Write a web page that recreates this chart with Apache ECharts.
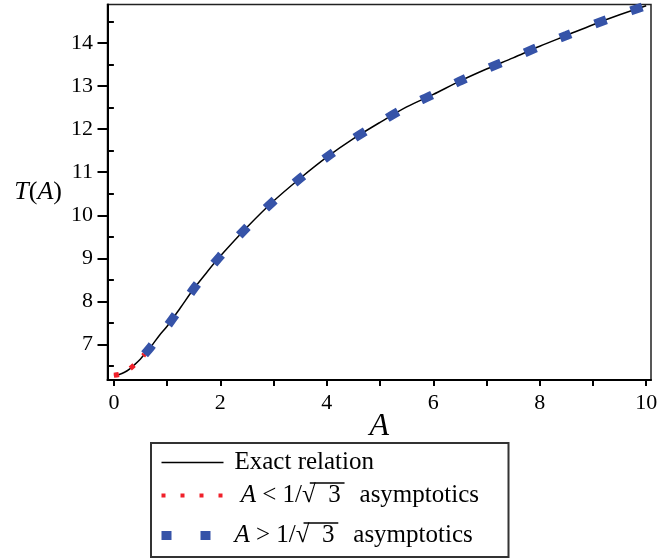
<!DOCTYPE html>
<html>
<head>
<meta charset="utf-8">
<title>T(A)</title>
<script src="https://cdn.jsdelivr.net/npm/echarts@6/dist/echarts.min.js"></script>
<style>
  html, body { margin: 0; padding: 0; background: #fff; }
  #chart { width: 672px; height: 560px; }
</style>
</head>
<body>
<div id="chart"></div>
<script>
// 曲线数据
const exactA = [0, 0.1, 0.2, 0.3, 0.4, 0.5, 0.577, 0.7, 0.85, 1, 1.25, 1.5, 1.75, 2, 2.5, 3, 3.5, 4, 4.5, 5, 5.5, 6, 6.5, 7, 7.5, 8, 8.5, 9, 9.5, 10]
const exactT = [6.28, 6.3, 6.35, 6.43, 6.54, 6.66, 6.77, 6.95, 7.2, 7.42, 7.85, 8.29, 8.68, 9.05, 9.72, 10.33, 10.86, 11.35, 11.78, 12.16, 12.52, 12.81, 13.12, 13.4, 13.66, 13.93, 14.18, 14.43, 14.66, 14.87]

// 小A渐近线
const smallA = [0, 0.1, 0.2, 0.3, 0.4, 0.5, 0.577]
const smallT = [6.28, 6.3, 6.35, 6.43, 6.54, 6.66, 6.77]

// 大A渐近线
const largeA = [0.577, 0.7, 0.85, 1, 1.25, 1.5, 1.75, 2, 2.5, 3, 3.5, 4, 4.5, 5, 5.5, 6, 6.5, 7, 7.5, 8, 8.5, 9, 9.5, 10]
const largeT = [6.77, 6.95, 7.2, 7.42, 7.85, 8.29, 8.68, 9.05, 9.72, 10.33, 10.86, 11.35, 11.78, 12.16, 12.52, 12.81, 13.12, 13.4, 13.66, 13.93, 14.18, 14.43, 14.66, 14.87]

// 刻度
const xTicks = [0, 1, 2, 3, 4, 5, 6, 7, 8, 9, 10]
const xLabels = [0, 2, 4, 6, 8, 10]
const yTicks = [7, 8, 9, 10, 11, 12, 13, 14]
const yMinorTicks = [6.5, 7.5, 8.5, 9.5, 10.5, 11.5, 12.5, 13.5, 14.5]

const zip = (xs, ys) => xs.map((x, i) => [x, ys[i]])

const font = 'Liberation Serif'
const fs = 25

// 图例的位置
const legendLeft = 151
const legendTop = 443
const legendRight = 504
const legendPadLeft = 6
const legendItemWidth = 62
const legendTextPad = 6
const textX = legendLeft + legendPadLeft + legendItemWidth + 5 + legendTextPad

const NB = '\u00A0'
const rootPart = NB + NB + '3' + NB
const rootTail = NB + NB + 'asymptotics'

// 量一下文字宽度, 用来画根号上的横线
const ctx = document.createElement('canvas').getContext('2d')
const measure = (txt, style) => {
  ctx.font = style + ' ' + fs + 'px ' + font
  return ctx.measureText(txt).width
}
const overline = (lead, op, y) => {
  const x0 = textX + measure(lead, 'normal') + measure('A', 'italic') + measure(' ' + op + ' 1/√', 'normal')
  const x1 = x0 + measure(rootPart, 'normal') + 2
  return {
    type: 'line',
    shape: { x1: x0 - 1.5, y1: y, x2: x1, y2: y },
    style: { stroke: '#000', lineWidth: 1.3 },
    z: 200
  }
}
const row2Width = measure(NB, 'normal') + measure('A', 'italic') + measure(' < 1/√' + rootPart + rootTail, 'normal')
const legendPadRight = legendRight - (textX + row2Width)

const chart = echarts.init(document.getElementById('chart'), null, { renderer: 'canvas' })

const legendRich = {
  it: { fontFamily: font, fontStyle: 'italic', fontSize: fs, color: '#000' },
  n: { fontFamily: font, fontSize: fs, color: '#000' },
  it3: { fontFamily: font, fontStyle: 'italic', fontSize: fs, color: '#000', lineHeight: 39, height: 39 },
  n3: { fontFamily: font, fontSize: fs, color: '#000', lineHeight: 39, height: 39 }
}

const option = {
  backgroundColor: '#fff',
  animation: false,
  textStyle: { fontFamily: font, color: '#000' },
  grid: {
    left: 107.5,
    right: 21,
    top: 4.5,
    bottom: 180,
    show: true,
    borderColor: '#222',
    borderWidth: 1.5
  },
  legend: {
    orient: 'vertical',
    left: legendLeft,
    top: legendTop,
    height: 300,
    padding: [7, legendPadRight, 2, legendPadLeft],
    itemGap: 8,
    itemWidth: legendItemWidth,
    itemHeight: 14,
    borderColor: '#333',
    borderWidth: 2,
    backgroundColor: '#fff',
    itemStyle: { opacity: 0 },
    textStyle: { fontFamily: font, fontSize: fs, color: '#000', padding: [0, 0, 0, legendTextPad], rich: legendRich },
    formatter: (name) => {
      if (name === 'exact') return '{n|Exact relation}'
      if (name === 'small') return '{n|' + NB + '}{it|A}{n| < 1/√' + rootPart + rootTail + '}'
      return '{it3|A}{n3| > 1/√' + rootPart + rootTail + '}'
    },
    data: [
      { name: 'exact', lineStyle: { width: 1.5 } },
      { name: 'small', lineStyle: { width: 4, type: [4, 15] } },
      { name: 'large', lineStyle: { width: 9, type: [10, 29] } }
    ]
  },
  graphic: [
    overline(NB, '<', 483),
    overline('', '>', 523)
  ],
  xAxis: {
    type: 'value',
    min: -0.12,
    max: 10.09,
    name: 'A',
    nameLocation: 'middle',
    nameGap: 31,
    nameMoveOverlap: false,
    nameTextStyle: { fontFamily: font, fontStyle: 'italic', fontSize: 32, color: '#000' },
    axisLine: { show: true, onZero: false, lineStyle: { color: '#000', width: 2 } },
    axisTick: { show: true, customValues: xTicks, length: 6, lineStyle: { color: '#000', width: 2 } },
    axisLabel: { customValues: xLabels, margin: 12, fontFamily: font, fontSize: 22, color: '#000' },
    splitLine: { show: false }
  },
  yAxis: [
    {
      type: 'value',
      min: 6.17,
      max: 14.9,
      name: '{i|T}{n|(}{i|A}{n|)}',
      nameLocation: 'middle',
      nameRotate: 0,
      nameGap: 45.5,
      nameMoveOverlap: false,
      nameTextStyle: {
        rich: {
          i: { fontFamily: font, fontStyle: 'italic', fontSize: 26, color: '#000' },
          n: { fontFamily: font, fontSize: 26, color: '#000' }
        }
      },
      axisLine: { show: true, onZero: false, lineStyle: { color: '#000', width: 2 } },
      axisTick: { show: true, customValues: yTicks, length: 10, lineStyle: { color: '#000', width: 2 } },
      axisLabel: { customValues: yTicks, margin: 14.5, fontFamily: font, fontSize: 22, color: '#000' },
      splitLine: { show: false }
    },
    {
      type: 'value',
      position: 'left',
      min: 6.17,
      max: 14.9,
      axisLine: { show: false },
      axisTick: { show: true, customValues: yMinorTicks, length: 5, lineStyle: { color: '#000', width: 2 } },
      axisLabel: { show: false },
      splitLine: { show: false }
    }
  ],
  series: [
    {
      name: 'exact',
      type: 'line',
      data: zip(exactA, exactT),
      smooth: 0.3,
      symbol: 'none',
      lineStyle: { color: '#000', width: 1.5 },
      color: '#000',
      z: 2
    },
    {
      name: 'small',
      type: 'line',
      data: zip(smallA, smallT),
      smooth: 0.3,
      symbol: 'none',
      color: '#f0202a',
      lineStyle: { color: '#f0202a', width: 5, type: [5, 13], cap: 'butt' },
      z: 3
    },
    {
      name: 'large',
      type: 'line',
      data: zip(largeA, largeT),
      smooth: 0.3,
      symbol: 'none',
      color: '#3653a8',
      lineStyle: { color: '#3653a8', width: 9, type: [12, 26], cap: 'butt' },
      z: 3
    }
  ]
}

chart.setOption(option)
</script>
</body>
</html>
